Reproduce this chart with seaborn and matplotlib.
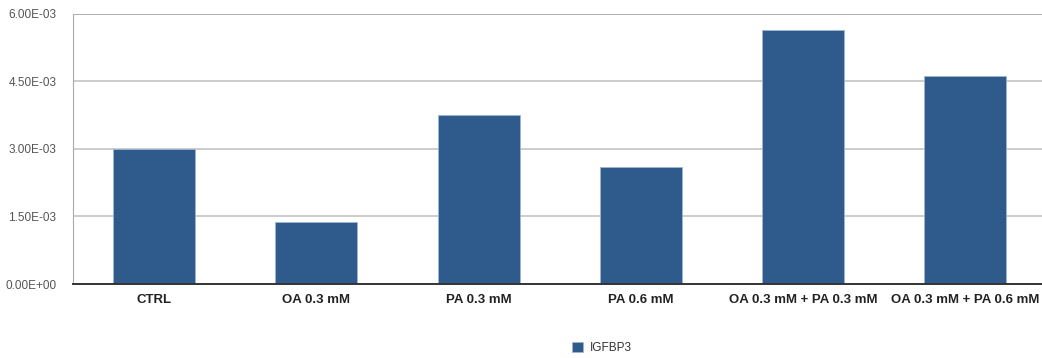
import matplotlib
matplotlib.use("Agg")
import matplotlib.pyplot as plt
from matplotlib.patches import Patch
import seaborn as sns
import pandas as pd

categories = ["CTRL", "OA 0.3 mM", "PA 0.3 mM", "PA 0.6 mM",
              "OA 0.3 mM + PA 0.3 mM", "OA 0.3 mM + PA 0.6 mM"]
igfbp3 = [3.00e-3, 1.38e-3, 3.76e-3, 2.60e-3, 5.64e-3, 4.63e-3]
y_ticks = [0.0, 1.5e-3, 3.0e-3, 4.5e-3, 6.0e-3]
y_tick_labels = ["0.00E+00", "1.50E-03", "3.00E-03", "4.50E-03", "6.00E-03"]
series_name = "IGFBP3"

df = pd.DataFrame({"group": categories, "value": igfbp3})

sns.set_theme(style="white")
plt.rcParams["font.family"] = ["Liberation Sans", "DejaVu Sans"]

bar_color = "#2e5a8c"
fig = plt.figure(figsize=(10.42, 3.58), dpi=100)
ax = fig.add_axes([0.070, 0.2067, 0.9343, 0.7543])

sns.barplot(data=df, x="group", y="value", color=bar_color, width=0.505,
            edgecolor="#9fb6d3", linewidth=0.6, saturation=1, ax=ax, zorder=3)

ax.set_ylim(0, 6.0e-3)
ax.set_xlim(-0.5, len(categories) - 0.5)
ax.set_yticks(y_ticks)
ax.set_yticklabels(y_tick_labels, fontsize=8.5, color="#555555")
ax.set_xticks(range(len(categories)))
ax.set_xticklabels(categories, fontsize=9.5, fontweight="bold", color="#222222")
ax.tick_params(axis="y", length=0, pad=12)
ax.tick_params(axis="x", length=0, pad=7)
ax.set_xlabel("")
ax.set_ylabel("")

for y in y_ticks[1:]:
    ax.axhline(y, color="#c4c4c4", linewidth=1.2, zorder=1)
ax.axhline(y_ticks[-1], color="#b0b0b0", linewidth=1.4, zorder=1)

for side in ["top", "right"]:
    ax.spines[side].set_visible(False)
ax.spines["left"].set_color("#aaaaaa")
ax.spines["left"].set_linewidth(0.8)
ax.spines["bottom"].set_color("#333333")
ax.spines["bottom"].set_linewidth(1.4)
ax.spines["bottom"].set_zorder(4)

handle = Patch(facecolor=bar_color, edgecolor="#9fb6d3", linewidth=0.5)
fig.legend([handle], [series_name], loc="center", bbox_to_anchor=(0.578, 0.028),
           frameon=False, fontsize=8.5, handlelength=0.9, handleheight=0.9,
           handletextpad=0.6, labelcolor="#333333")

fig.savefig("out.png", dpi=100)
